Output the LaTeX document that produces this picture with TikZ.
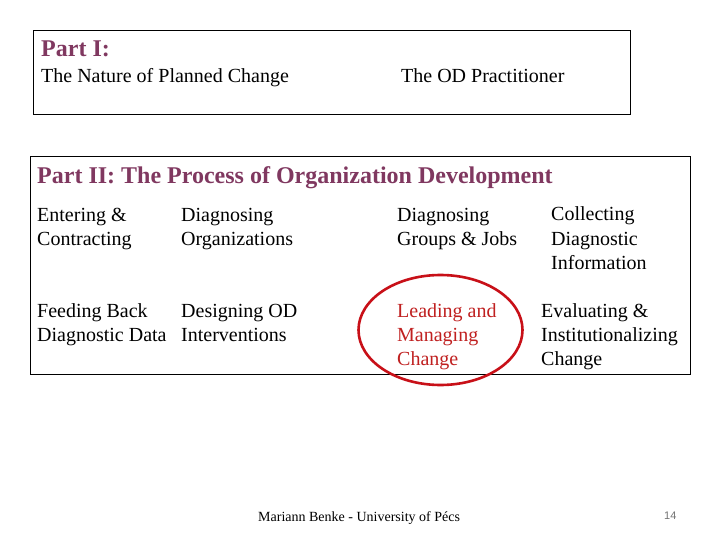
\documentclass[tikz,border=0pt]{standalone}
\usepackage{fontspec}
\setmainfont{Liberation Serif}
\newfontfamily\numfont{Liberation Sans}
\definecolor{titlepurple}{RGB}{128,56,96}
\definecolor{hired}{RGB}{192,32,32}
\definecolor{ringred}{RGB}{200,16,24}
\begin{document}
\begin{tikzpicture}[x=1pt,y=-1pt,
  frame/.style={draw=black,line width=0.9pt},
  ttl/.style={anchor=base west,inner sep=0pt,text=titlepurple,font=\fontsize{24}{28}\selectfont\bfseries},
  body/.style={anchor=base west,inner sep=0pt,align=left,font=\fontsize{20}{24}\selectfont},
  hot/.style={body,text=hired},
  ring/.style={draw=ringred,line width=2.6pt}]
\useasboundingbox[fill=white] (0,0) rectangle (720,540);
% Part I
\draw[frame] (33,30) rectangle (630,114);
\node[ttl] (p1) at (41,57) {Part I:};
\node[body] (nat) at (41,83) {The Nature of Planned Change};
\node[body] (prac) at (401,83) {The OD Practitioner};
% Part II
\draw[frame] (30,156) rectangle (690,374);
\node[ttl] (p2) at (37,184) {Part II: The Process of Organization Development};
% multi-line nodes: base anchor = baseline of the last line
\node[body] (ent) at (37,245) {Entering \&\\Contracting};
\node[body] (dorg) at (181,245) {Diagnosing\\Organizations};
\node[body] (dgrp) at (397,245) {Diagnosing\\Groups \& Jobs};
\node[body] (coll) at (551,269) {Collecting\\Diagnostic\\Information};
\node[body] (feed) at (37,341) {Feeding Back\\Diagnostic Data};
\node[body] (des) at (181,341) {Designing OD\\Interventions};
\node[hot] (lead) at (397,365) {Leading and\\Managing\\Change};
\node[body] (eval) at (541,365) {Evaluating \&\\Institutionalizing\\Change};
\draw[ring] (440.5,330) ellipse [x radius=82, y radius=55];
% footer
\node[anchor=base west,inner sep=0pt,font=\fontsize{14}{16}\selectfont] (foot) at (258,521) {Mariann Benke - University of Pécs};
\node[anchor=base west,inner sep=0pt,text=black!55,font=\numfont\fontsize{11}{13}\selectfont] (pg) at (664,519) {14};
\end{tikzpicture}
\end{document}
